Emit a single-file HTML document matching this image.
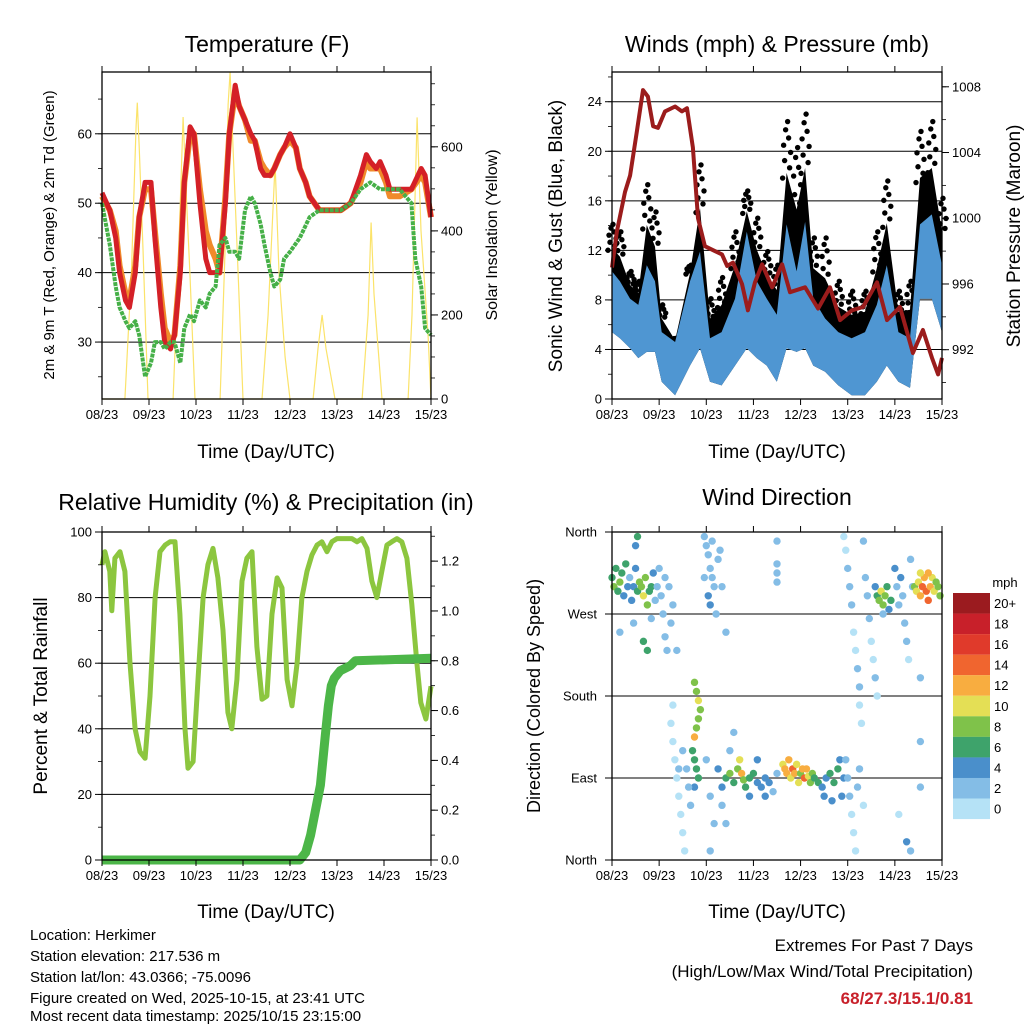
<!DOCTYPE html>
<html><head><meta charset="utf-8">
<style>
html,body{margin:0;padding:0;background:#fff;}
svg{display:block;font-family:"Liberation Sans",Arial,sans-serif;}
</style></head>
<body>
<svg id="fig" width="1024" height="1024" viewBox="0 0 1024 1024" xmlns="http://www.w3.org/2000/svg">
<rect width="1024" height="1024" fill="#fff"/>
<text x="267" y="52" font-size="23" text-anchor="middle">Temperature (F)</text>
<text x="777" y="52" font-size="23" text-anchor="middle">Winds (mph) &amp; Pressure (mb)</text>
<text x="266" y="510" font-size="23" text-anchor="middle">Relative Humidity (%) &amp; Precipitation (in)</text>
<text x="777" y="505" font-size="23" text-anchor="middle">Wind Direction</text>

<text x="266" y="458" font-size="19" text-anchor="middle">Time (Day/UTC)</text>
<text x="777" y="458" font-size="19" text-anchor="middle">Time (Day/UTC)</text>
<text x="266" y="918" font-size="19" text-anchor="middle">Time (Day/UTC)</text>
<text x="777" y="918" font-size="19" text-anchor="middle">Time (Day/UTC)</text>

<text transform="translate(54,235) rotate(-90)" font-size="15" text-anchor="middle">2m &amp; 9m T (Red, Orange) &amp; 2m Td (Green)</text>
<text transform="translate(497,235) rotate(-90)" font-size="16" text-anchor="middle">Solar Insolation (Yellow)</text>
<text transform="translate(562,236) rotate(-90)" font-size="19" text-anchor="middle">Sonic Wind &amp; Gust (Blue, Black)</text>
<text transform="translate(1020,236) rotate(-90)" font-size="19" text-anchor="middle">Station Pressure (Maroon)</text>
<text transform="translate(47,696) rotate(-90)" font-size="19" text-anchor="middle">Percent &amp; Total Rainfall</text>
<text transform="translate(540,696) rotate(-90)" font-size="18" text-anchor="middle">Direction (Colored By Speed)</text>

<g font-size="15">
<text x="30" y="940">Location: Herkimer</text>
<text x="30" y="961">Station elevation: 217.536 m</text>
<text x="30" y="982">Station lat/lon: 43.0366; -75.0096</text>
<text x="30" y="1003">Figure created on Wed, 2025-10-15, at 23:41 UTC</text>
<text x="30" y="1024" dy="-3">Most recent data timestamp: 2025/10/15 23:15:00</text>
</g>
<g font-size="17" text-anchor="end">
<text x="973" y="951">Extremes For Past 7 Days</text>
<text x="973" y="977">(High/Low/Max Wind/Total Precipitation)</text>
<text x="973" y="1004" fill="#c8202a" font-weight="bold">68/27.3/15.1/0.81</text>
</g>
<g id="layer"></g>
</svg>
<script>
// ---------- data ----------
const dayLabels = ["08/23","09/23","10/23","11/23","12/23","13/23","14/23","15/23"];
const tempT = [0,4,7,9,12,14,17,19,22,25,27,30,32,35,37,40,42,45,47,50,53,55,58,60,63,65,68,70,73,76,78,81,83,86,88,91,93,96,99,101,104,106,111,116,122,127,132,135,137,140,142,145,147,152,158,163,165,168];
const tempRed = [51.5,49,45,40,36,35,40,48,53,53,45,35,30,29,31,40,53,61,60,50,42,40,40,40,50,60,67,64,62,60,59,55,54,54,55,57,58,60,58,55,53,51,49,49,49,50,54,57,56,55,56,54,52,52,52,55,54,48];
const tempOrange = [51,49,46,41,37,36,41,48,52,52,46,37,32,30,31,41,53,60,60,52,46,44,42,40,51,60,66,64,62,59,59,56,55,54,55,57,58,59,58,55,53,51,49,49,49,50,53,56,55,55,55,53,51,51,52,54,53,48];
const dewT = [0,4,7,9,12,14,17,19,22,25,27,30,32,35,37,40,42,45,47,50,53,55,58,60,63,65,68,70,73,76,78,81,83,86,88,91,93,96,101,106,111,116,122,127,132,137,142,147,152,158,160,163,165,168];
const dewVal = [50,44,38,35,33,32,33,31,25,27,30,30,29,30,30,27,32,34,33,36,35,37,38,44,45,43,43,42,49,51,50,47,44,40,38,39,42,43,45,48,49,49,49,50,52,53,52,52,52,50,42,38,32,31];
const solarT = [0,11.7,15,17.4,18,19,21,23.5,36.3,38.8,41.4,42.9,44.9,47.5,60.3,62.8,64.4,65.4,66.9,69.5,72,81.7,84.8,88.4,90.4,93.5,96,107.8,110.3,112.4,114.4,119,132.8,135.9,137.4,138.9,140,143,156.3,158.3,160.9,162.9,166.5,168];
const solarVal = [0,0,300,650,705,600,350,0,0,300,671,500,300,0,0,350,700,778,600,300,0,0,200,560,300,100,0,0,120,200,120,0,0,200,420,250,180,0,0,200,670,400,150,0];
const presT = [0,2.5,6.6,9.2,12.7,15.8,18.3,20.9,23.4,27,32.1,35.6,38.2,41.2,43.8,47.3,52.4,56,58.6,61.6,66.2,69.2,72.8,76.4,81.5,86.6,90.6,98.3,104.9,111,116.1,122.2,127.8,134.9,140,146.6,153.2,158.3,162.9,166,168];
const presVal = [997,999.2,1001.6,1002.6,1005.3,1007.8,1007.4,1005.6,1005.5,1006.5,1006.8,1006.5,1006.7,1004.3,1000,998.3,998,997.8,997.1,997.3,996,994.4,996.1,997.2,995.8,997.2,995.5,995.8,994.5,995.8,993.8,994.4,994.6,996.1,993.8,994.6,991.8,993.2,991.5,990.5,991.5];
const windT = [0,4,9.2,13.4,17.7,21.9,25.3,32.1,39.7,44.8,49.9,55.8,62.6,68.6,73.7,78.8,83.9,88.9,94,98.3,102.5,108.5,115.2,122,128.8,134.8,139.9,145.8,151.7,156.8,162.8,168];
const windLow = [5.4,4.9,4.1,3.3,3.8,3.8,1.4,0.3,2.7,4.1,1.4,1.1,2.7,4.1,3.3,2.7,1.4,4.1,3.8,4.1,2.7,2.2,1.1,0.3,0.3,1.4,2.7,1.4,0.9,8.1,8.1,5.4];
const windHigh = [10.3,9.5,8.1,7.6,10.8,9.5,5.4,4.6,9.5,11.9,4.9,5.4,8.1,13.5,9.5,8.1,6.8,14.1,10.3,14.3,8.1,6.5,5.4,4.9,5.4,7.6,10.8,5.4,4.9,14.1,14.9,10.8];
const gustHigh = [14.1,13.5,10.3,9.5,17.3,15.1,7.6,4.9,10.8,18.9,8.1,9.8,13.5,16.8,14.6,11.9,10.8,22.4,20.3,23,13,13,9.5,8.7,8.7,13.5,17.6,8.7,9.5,21.6,22.4,16.2];
const rhT = [0,1.5,4,5,6.6,9.2,11.7,14.3,16.9,19.4,22,24.5,27.1,29.6,32.2,34.7,37.3,39.8,42.4,43.9,46.5,49,51.6,54.1,56.7,59.2,61.8,64.3,66.3,68.9,71.5,74,76.6,79.1,81.7,84.2,86.8,89.4,91.9,94.5,97,99.6,102.1,104.7,107.2,109.8,112.3,114.9,117.4,120,122.5,125.1,127.6,130.2,132.7,135.3,137.8,140.4,142.9,145.5,148,150.6,153.1,155.7,158.2,160.8,162.8,165.4];
const rhVal = [90,94,88,76,92,94,88,60,40,33,31,50,80,94,96,97,97,75,40,28,30,55,80,90,95,86,70,45,40,55,85,92,94,65,49,50,75,86,83,55,47,60,80,88,93,96,97,94,97,98,98,98,98,97,98,95,85,80,88,96,97,98,97,92,78,60,48,43];
const rhEndT = [168];
const rhEndVal = [53];
const precipT = [0,101,104,106.5,109,111.5,114,115.6,117.1,118.6,121.7,126.8,129.4,168];
const precipVal = [0,0,0.03,0.1,0.2,0.3,0.5,0.62,0.7,0.73,0.76,0.78,0.8,0.81];
const dirT = [0,1,2,3,4,5,6,7,8,9,10,11,12,13,14,15,16,17,18,19,20,21,22,23,24,12,13,11,4,16,18,20,25,26,27,28,30,27,29,31,33,
47,48,49,50,51,52,49,50,53,54,55,51,56,47,58,84,84,84,84,
118,119,120,121,122,123,124,125,126,126,127,128,129,130,131,132,133,134,135,
135,136,137,138,139,140,141,142,138,134,144,145,146,147,148,149,150,151,152,153,
154,155,156,157,158,159,160,161,162,163,164,165,166,167,157,161,
42,43,44,45,44,43,42,41,42,43,44,42,30,31,32,33,34,35,36,37,38,39,40,36,34,31,
54,56,58,60,62,64,65,66,67,68,70,72,74,76,78,80,82,84,56,58,60,62,70,74,78,48,50,52,50,
87,88,89,90,91,92,93,94,95,96,97,98,99,100,101,102,
103,105,107,109,111,113,115,116,118,117,112,108,119,120,121,122,123,124,125,126,128,150,152,146,157,157,157];
const dirDeg = [310,300,320,295,305,315,290,325,300,310,285,300,320,295,305,300,290,310,280,295,300,315,285,300,320,345,355,260,250,240,230,265,290,270,245,230,260,310,300,280,230,
355,345,335,320,310,300,290,280,270,330,340,350,300,310,250,350,325,315,305,
355,340,320,300,280,250,230,210,190,170,150,350,310,290,265,240,220,200,180,
290,285,295,280,290,300,275,285,270,300,320,300,280,310,290,260,240,220,330,300,
300,295,305,290,300,310,295,285,300,310,295,305,300,290,315,315,
195,185,175,165,155,145,135,120,110,100,90,80,150,130,110,90,70,50,30,10,100,80,60,120,100,170,
100,80,90,95,85,100,110,95,88,80,90,95,85,80,90,85,75,95,60,40,120,140,70,110,70,110,70,40,10,
105,100,95,110,90,100,95,105,85,95,100,90,100,92,85,95,
90,85,80,90,95,85,100,110,90,70,65,70,110,90,70,50,30,10,80,100,60,20,10,50,80,130,200];
const dirSpd = [7,8,6,7,8,6,5,6,4,3,4,5,4,6,8,9,10,8,9,7,6,4,3,2,3,4,6,2,2,6,6,3,3,3,2,3,2,3,2,2,2,
2,3,2,3,2,3,4,4,3,2,2,3,2,3,2,2,2,2,3,
1,1,2,3,2,1,1,2,2,1,1,3,3,2,2,1,1,2,1,
7,8,10,9,8,6,4,6,3,4,4,3,2,4,3,2,2,1,2,3,
9,10,11,13,14,12,15,14,13,11,10,9,8,8,10,12,
8,9,10,8,9,8,12,6,6,6,6,4,1,1,1,1,1,1,1,1,2,2,2,2,2,1,
4,4,6,8,7,8,10,12,8,6,6,7,5,4,4,5,3,3,3,2,2,3,4,4,4,2,2,2,2,
11,12,13,12,10,14,12,11,10,9,12,14,12,10,8,9,
6,6,4,5,6,7,6,4,4,4,4,4,2,2,2,1,1,1,2,2,1,4,3,1,2,2,3];
const speedLabels = ["20+","18","16","14","12","10","8","6","4","2","0"];
const speedColors = ["#9b1b1f","#c8202a","#e03a2b","#f0652f","#f8ad40","#e4df55","#7fc24a","#3ea36b","#4a8fcb","#84bde6","#b5e2f6"];
const dirLabels = ["North","West","South","East","North"];
const dirTicks = [360,270,180,90,0];

// ---------- helpers ----------
const NS = "http://www.w3.org/2000/svg";
const layer = document.getElementById("layer");
function mk(tag, attrs, parent){
  const e = document.createElementNS(NS, tag);
  for (const k in attrs) e.setAttribute(k, attrs[k]);
  (parent||layer).appendChild(e);
  return e;
}
function panel(x0,x1,y0,y1,yMin,yMax,y2Min,y2Max){
  return {x0,x1,y0,y1,
    sx:t=>x0+(t/168)*(x1-x0),
    sy:v=>y1-(v-yMin)/(yMax-yMin)*(y1-y0),
    sy2:v=>y1-(v-y2Min)/(y2Max-y2Min)*(y1-y0)};
}
function pathFrom(ts,vs,sx,sy){
  return ts.map((t,i)=>(i?"L":"M")+sx(t).toFixed(1)+","+sy(vs[i]).toFixed(1)).join("");
}
function frame(p,name){
  const r = mk("rect",{x:p.x0,y:p.y0,width:p.x1-p.x0,height:p.y1-p.y0,fill:"none",stroke:"#000","stroke-width":1.3});
  
  
  for (let d=0; d<=7; d++){
    const x = p.sx(d*24);
    mk("line",{x1:x,x2:x,y1:p.y1,y2:p.y1+6,stroke:"#000","stroke-width":1});
    mk("line",{x1:x,x2:x,y1:p.y0,y2:p.y0-6,stroke:"#000","stroke-width":1});
    const tx = mk("text",{x:x,y:p.y1+20,"font-size":13,"text-anchor":"middle"});
    tx.textContent = dayLabels[d];
    
    
  }
}
function yTicks(p,vals,labels,side,sy,minor){
  const g = mk("g",{});
  
  
  const xe = side==="left"?p.x0:p.x1, dir = side==="left"?-1:1;
  if (minor) minor.forEach(v=>{ const y=sy(v); if(y<p.y0-0.5||y>p.y1+0.5)return; mk("line",{x1:xe,x2:xe+dir*4,y1:y,y2:y,stroke:"#000","stroke-width":0.8},g); });
  vals.forEach((v,i)=>{
    const y = sy(v);
    mk("line",{x1:xe,x2:xe+dir*7,y1:y,y2:y,stroke:"#000","stroke-width":1},g);
    const t = mk("text",{x:xe+dir*10,y:y+4.5,"font-size":13,"text-anchor":side==="left"?"end":"start"},g);
    t.textContent = labels[i];
  });
}
function grid(p,vals,sy){
  vals.forEach(v=>{ const y=sy(v); const l=mk("line",{x1:p.x0,x2:p.x1,y1:y,y2:y,stroke:"#000","stroke-width":1});
    
     });
}
function range(a,b,s){const r=[];for(let v=a;v<=b+1e-9;v+=s)r.push(+v.toFixed(3));return r;}

// ---------- Panel 1: temperature ----------
const P1 = panel(102,431,72,399,21.8,68.9,0,778);
grid(P1,[30,40,50,60],P1.sy);
const solar = mk("path",{d:pathFrom(solarT,solarVal,P1.sx,P1.sy2),fill:"none",stroke:"#fbe36a","stroke-width":1.2});


const orange = mk("path",{d:pathFrom(tempT,tempOrange,P1.sx,P1.sy),fill:"none",stroke:"#f08a2a","stroke-width":6,"stroke-linejoin":"round"});


const red = mk("path",{d:pathFrom(tempT,tempRed,P1.sx,P1.sy),fill:"none",stroke:"#d42027","stroke-width":5,"stroke-linejoin":"round"});


const dew = mk("path",{d:pathFrom(dewT,dewVal,P1.sx,P1.sy),fill:"none",stroke:"#46b048","stroke-width":4,"stroke-dasharray":"4 1","stroke-linejoin":"round"});


frame(P1,"temperature");
yTicks(P1,[30,40,50,60],["30","40","50","60"],"left",P1.sy,range(25,65,5));
yTicks(P1,[0,200,400,600],["0","200","400","600"],"right",P1.sy2,range(50,750,50));

// ---------- Panel 2: winds ----------
const P2 = panel(612,942,72,399,0,26.4,989.0,1008.9);
grid(P2,[4,8,12,16,20,24],P2.sy);
const topGust = windT.map((t,i)=>windHigh[i]+0.5*(gustHigh[i]-windHigh[i]));
const blk = mk("path",{d:pathFrom(windT,topGust,P2.sx,P2.sy)+pathFrom(windT.slice().reverse(),windLow.slice().reverse(),P2.sx,P2.sy).replace("M","L")+"Z",fill:"#000"});


const fracs = [0.45,0.55,0.62,0.7,0.77,0.84,0.92,1.0];
const offs = [-4,3,-2,4,-3,2,-1,1];
windT.forEach((t,i)=>{
  fracs.forEach((f,j)=>{
    const v = windHigh[i]+f*(gustHigh[i]-windHigh[i]);
    const c = mk("circle",{cx:P2.sx(t)+offs[j],cy:P2.sy(v),r:2.7,fill:"#000"});
    
    
  });
});
const blue = mk("path",{d:pathFrom(windT,windHigh,P2.sx,P2.sy)+pathFrom(windT.slice().reverse(),windLow.slice().reverse(),P2.sx,P2.sy).replace("M","L")+"Z",fill:"#4f96d2"});


const pres = mk("path",{d:pathFrom(presT,presVal,P2.sx,P2.sy2),fill:"none",stroke:"#9b1c1c","stroke-width":4,"stroke-linejoin":"round"});


frame(P2,"winds");
yTicks(P2,[0,4,8,12,16,20,24],["0","4","8","12","16","20","24"],"left",P2.sy,range(2,26,2));
yTicks(P2,[992,996,1000,1004,1008],["992","996","1000","1004","1008"],"right",P2.sy2,range(990,1008,2));

// ---------- Panel 3: humidity ----------
const P3 = panel(102,431,532,860,0,100,0,1.317);
grid(P3,[20,40,60,80],P3.sy);
const rh = mk("path",{d:pathFrom(rhT.concat(rhEndT),rhVal.concat(rhEndVal),P3.sx,P3.sy),fill:"none",stroke:"#8cc63f","stroke-width":5,"stroke-linejoin":"round"});


const pr = mk("path",{d:pathFrom(precipT,precipVal,P3.sx,P3.sy2),fill:"none",stroke:"#4cb648","stroke-width":9,"stroke-linejoin":"round"});


frame(P3,"humidity");
yTicks(P3,[0,20,40,60,80,100],["0","20","40","60","80","100"],"left",P3.sy,range(10,90,10));
yTicks(P3,[0,0.2,0.4,0.6,0.8,1.0,1.2],["0.0","0.2","0.4","0.6","0.8","1.0","1.2"],"right",P3.sy2,range(0.1,1.3,0.1));

// ---------- Panel 4: wind direction ----------
const P4 = panel(612,942,532,860,0,360,0,360);
grid(P4,[270,180,90],P4.sy);
function spdColor(s){ const idx = Math.min(10, Math.floor(s/2)); return speedColors[10-idx]; }
dirT.forEach((t,i)=>{
  const c = mk("circle",{cx:P4.sx(t),cy:P4.sy(dirDeg[i]),r:3.7,fill:spdColor(dirSpd[i])});
  
  
});
frame(P4,"wind-direction");
dirTicks.forEach((v,i)=>{
  const y = P4.sy(v);
  mk("line",{x1:P4.x0,x2:P4.x0-7,y1:y,y2:y,stroke:"#000"});
  const t = mk("text",{x:P4.x0-15,y:y+4.5,"font-size":13,"text-anchor":"end"});
  t.textContent = dirLabels[i];
  
  
});
const cbT = mk("text",{x:1005,y:587,"font-size":13,"text-anchor":"middle"});
cbT.textContent = "mph";


speedLabels.forEach((lab,i)=>{
  const y = 593 + i*20.55;
  const r = mk("rect",{x:953,y:y,width:37,height:20.6,fill:speedColors[i]});
  
  
  const t = mk("text",{x:994,y:y+15,"font-size":13});
  t.textContent = lab;
  
  
});
</script>
</body></html>
